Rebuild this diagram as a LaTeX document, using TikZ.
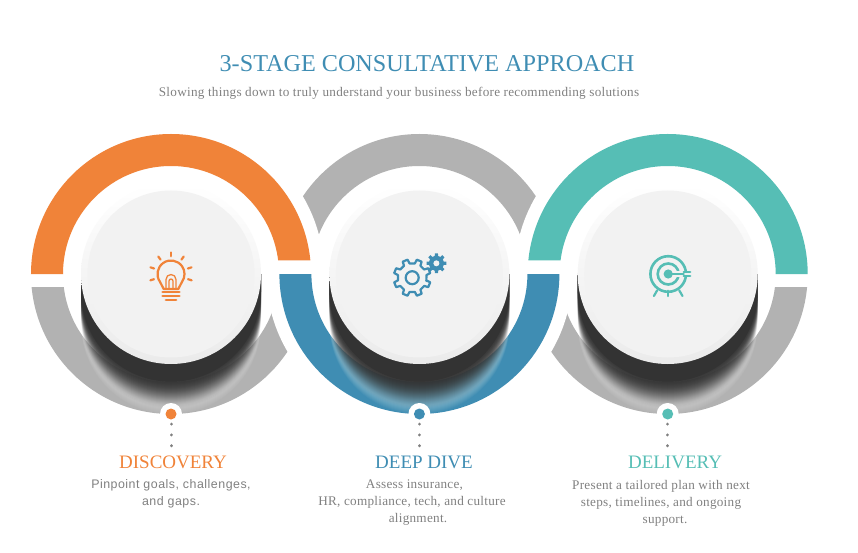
\documentclass[tikz,border=0pt]{standalone}
\usepackage{fontspec}
\setmainfont{Liberation Serif}
\newfontfamily\bodysans[LetterSpace=4]{Liberation Sans}
\newfontfamily\bodyserif[LetterSpace=2]{Liberation Serif}
\definecolor{orangeC}{HTML}{F08339}
\definecolor{blueC}{HTML}{3F8DB3}
\definecolor{tealC}{HTML}{56BEB5}
\definecolor{ringgray}{HTML}{B2B2B2}
\definecolor{textgray}{HTML}{808080}
\definecolor{discC}{HTML}{F2F2F2}
\tikzset{
  headline/.style={font=\fontsize{24.2}{30}\selectfont,text=blueC},
  subline/.style={font=\fontsize{13.2}{16}\bodyserif,text=textgray},
  stagetitle/.style={font=\fontsize{19}{22}\selectfont,inner sep=1pt},
  stagetext/.style={font=\fontsize{13.2}{17}\bodyserif,text=textgray,align=center},
  markdot/.style={circle,inner sep=0pt,outer sep=0pt,minimum size=11pt},
  dotline/.style={textgray,line width=3pt,line cap=round,dash pattern=on 0.2pt off 10.6pt,dash phase=6.3pt},
  iconline/.style={line width=2.2pt,line cap=round,line join=round}
}
% ring piece between two heights
\newcommand{\ringpart}[4]{\begin{scope}
  \clip (#1-150,#2) rectangle (#1+150,#3);
  \draw[#4,line width=32pt] (#1,278) circle (124);
\end{scope}}
\begin{document}
\begin{tikzpicture}[x=1pt,y=1pt]
  \useasboundingbox (0,0) rectangle (858,552);
  \def\cy{278}\def\cxa{171}\def\cxb{419.4}\def\cxc{667.7}
  \node[headline] (head) at (427,488) {3-STAGE CONSULTATIVE APPROACH};
  \node[subline] (sub) at (399,459) {Slowing things down to truly understand your business before recommending solutions};
  % grey top of the middle ring, cut by the outer circles
  \ringpart{\cxb}{278}{430}{ringgray}
  \begin{scope}
    \clip (0,278) rectangle (858,552);
    \fill[white] (\cxa,\cy) circle (153);
    \fill[white] (\cxc,\cy) circle (153);
  \end{scope}
  % grey bottoms of the outer rings, cut by the middle circle
  \ringpart{\cxa}{130}{264.7}{ringgray}
  \ringpart{\cxc}{130}{264.7}{ringgray}
  \begin{scope}
    \clip (0,130) rectangle (858,278);
    \fill[white] (\cxb,\cy) circle (153);
  \end{scope}
  % coloured pieces
  \begin{scope}
    \clip (0,278)--(\cxa,278)--(\cxa,291.5)--(330,291.5)--(330,430)--(0,430)--cycle;
    \draw[orangeC,line width=32pt] (\cxa,\cy) circle (124);
  \end{scope}
  \ringpart{\cxb}{130}{278}{blueC}
  \begin{scope}
    \clip (830,278)--(\cxc,278)--(\cxc,291.5)--(520,291.5)--(520,430)--(830,430)--cycle;
    \draw[tealC,line width=32pt] (\cxc,\cy) circle (124);
  \end{scope}
  % discs with the fading dark foot
  \foreach \cx/\col/\nm in {\cxa/orangeC/a,\cxb/blueC/b,\cxc/tealC/c}{
    \begin{scope}[shift={(\cx,\cy)}]
      \foreach \k in {50,49,...,42}
        \fill[white,fill opacity=0.04] (-90,0)--(-90,-\k) arc (180:360:90)--(90,0)--cycle;
      \foreach \k in {44,43,...,19}{
        \pgfmathsetmacro{\op}{0.015+0.007*(44-\k)}
        \fill[black!80,fill opacity=\op] (-90,0)--(-90,-\k) arc (180:360:90)--(90,0)--cycle;
      }
      \fill[black!80] (-90,0)--(-90,-17.7) arc (180:360:90)--(90,0)--cycle;
      \shade[top color=white,bottom color=black!8] (0,0) circle (90);
      \fill[discC] (0,0) circle (83.5);
    \end{scope}
    \fill[white] (\cx,138) circle (11);
    \node[markdot,fill=\col] (mark\nm) at (\cx,138) {};
  }
  % lamp
  \begin{scope}[shift={(\cxa,\cy)},orangeC,iconline]
    \foreach \a in {90,54,126,18,162,-17,197}
      \draw (\a:17.8)--(\a:21.6);
    \draw (-7.3,-15)--(215:13.5) arc (215:-35:13.5)--(7.3,-15)--cycle;
    \draw[line width=1.3pt] (-5,-15)--(-5,-5.5) arc (180:0:5)--(5,-15);
    \draw[line width=1.3pt] (-2,-15)--(-2,-7) arc (180:0:2)--(2,-15);
    \draw[line width=2.5pt] (-8.4,-17.9)--(8.4,-17.9);
    \draw[line width=2.5pt] (-8.4,-21.8)--(8.4,-21.8);
    \draw[line width=2.2pt] (-5.2,-25.7)--(5.2,-25.7);
  \end{scope}
  % gears
  \begin{scope}[shift={(\cxb,\cy)},blueC,iconline]
    \begin{scope}[shift={(-7.2,-3.7)}]
      \draw (-13:14.5) \foreach \a in {22.5,67.5,...,337.5}{ -- (\a-12:14.5) -- (\a-8:18.6) -- (\a+8:18.6) -- (\a+12:14.5)} -- cycle;
      \draw (0,0) circle (6.5);
    \end{scope}
    \begin{scope}[shift={(17,10.7)}]
      \fill (-13:7.5) \foreach \a in {0,45,...,315}{ -- (\a-13:7.5) -- (\a-9:10) -- (\a+9:10) -- (\a+13:7.5)} -- cycle;
      \fill[discC] (0,0) circle (3);
    \end{scope}
  \end{scope}
  % target
  \begin{scope}[shift={(\cxc+0.5,\cy)},tealC,iconline]
    \draw[line width=2.6pt] (0,0) circle (17.8);
    \draw[line width=2.6pt] (0,0) circle (10.5);
    \fill (0,0) circle (4.6);
    \fill[discC] (6,-3) rectangle (24,3);
    \draw (0,0)--(15.5,0);
    \draw (15.5,2.1)--(22,2.1);
    \draw (15.5,-2.1)--(22,-2.1);
    \draw (-11,-16.3)--(-14.3,-22);
    \draw (0,-16.8)--(0,-22);
    \draw (11,-16.3)--(14.3,-22);
  \end{scope}
  % captions
  \node[stagetitle,text=orangeC] (titlea) at (173,90) {DISCOVERY};
  \node[stagetitle,text=blueC] (titleb) at (424,90) {DEEP DIVE};
  \node[stagetitle,text=tealC] (titlec) at (675,90) {DELIVERY};
  \node[stagetext,font=\fontsize{12.4}{17}\bodysans,below=0pt] (texta) at (171,76) {Pinpoint goals, challenges,\\and gaps.};
  \node[stagetext,below=0pt] (textb) at (412,75.5) {\hspace*{5pt}Assess insurance,\\HR, compliance, tech, and culture\\\hspace*{12pt}alignment.};
  \node[stagetext,below=0pt] (textc) at (661,75.5) {Present a tailored plan with next\\steps, timelines, and ongoing\\\hspace*{8pt}support.};
  \foreach \nm in {a,b,c}
    \draw[dotline] (mark\nm.south)--(mark\nm.south |- title\nm.north);
\end{tikzpicture}
\end{document}
